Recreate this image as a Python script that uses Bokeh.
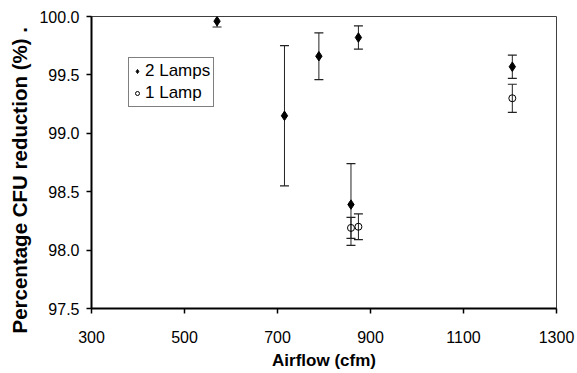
import math
from bokeh.plotting import figure
from bokeh.models import (ColumnDataSource, Range1d, Whisker, TeeHead, Legend,
                          LegendItem, Title, PrintfTickFormatter, FixedTicker)
from bokeh.embed import file_html
from bokeh.resources import INLINE

# ---- data ----
airflow_2 = [570, 715, 789, 858, 874, 1205]
reduction_2 = [99.96, 99.15, 99.66, 98.39, 99.82, 99.57]
error_2 = [0.05, 0.60, 0.20, 0.35, 0.10, 0.10]

airflow_1 = [858, 874, 1205]
reduction_1 = [98.19, 98.20, 99.30]
error_1 = [0.09, 0.11, 0.12]

x_ticks = [300, 500, 700, 900, 1100, 1300]
y_ticks = [97.5, 98.0, 98.5, 99.0, 99.5, 100.0]

series_names = ["2 Lamps", "1 Lamp"]
x_title = "Airflow (cfm)"
y_title = "Percentage CFU reduction (%) ."

FONT = "Liberation Sans"

src2 = ColumnDataSource(dict(
    x=airflow_2, y=reduction_2,
    upper=[v + e for v, e in zip(reduction_2, error_2)],
    lower=[v - e for v, e in zip(reduction_2, error_2)]))
src1 = ColumnDataSource(dict(
    x=airflow_1, y=reduction_1,
    upper=[v + e for v, e in zip(reduction_1, error_1)],
    lower=[v - e for v, e in zip(reduction_1, error_1)]))

p = figure(width=577, height=373, frame_width=465, frame_height=292,
           min_border_left=91, min_border_right=21, min_border_top=16,
           min_border_bottom=65, output_backend="svg", toolbar_location=None,
           x_range=Range1d(x_ticks[0], x_ticks[-1]),
           y_range=Range1d(y_ticks[0], y_ticks[-1]))

p.background_fill_color = "white"
p.border_fill_color = "white"
p.outline_line_color = "#404040"
p.outline_line_width = 1
p.xgrid.visible = False
p.ygrid.visible = False

for ax in (p.xaxis[0], p.yaxis[0]):
    ax.axis_line_width = 2
    ax.axis_line_color = "black"
    ax.major_tick_line_color = "black"
    ax.major_tick_line_width = 1.5
    ax.major_tick_in = 0
    ax.major_tick_out = 5
    ax.minor_tick_line_color = None
    ax.major_label_text_font = FONT
    ax.major_label_text_font_size = "16px"
    ax.major_label_text_color = "black"

p.xaxis.ticker = FixedTicker(ticks=x_ticks)
p.yaxis.ticker = FixedTicker(ticks=y_ticks)
p.yaxis.formatter = PrintfTickFormatter(format="%.1f")
p.xaxis.major_label_standoff = 17
p.yaxis.major_label_standoff = 7

p.xaxis.axis_label = x_title
p.xaxis.axis_label_text_font = FONT
p.xaxis.axis_label_text_font_style = "bold"
p.xaxis.axis_label_text_font_size = "17px"
p.xaxis.axis_label_text_color = "black"
p.xaxis.axis_label_standoff = 5

# error bars
for src in (src2, src1):
    w = Whisker(base="x", upper="upper", lower="lower", source=src,
                line_color="#222222", line_width=1,
                upper_head=TeeHead(size=9, line_color="#222222", line_width=1.2),
                lower_head=TeeHead(size=9, line_color="#222222", line_width=1.2))
    p.add_layout(w)

r2 = p.scatter("x", "y", source=src2, marker="diamond", size=9.5,
               fill_color="black", line_color="black")
r1 = p.scatter("x", "y", source=src1, marker="circle", size=7,
               fill_color=None, line_color="black", line_width=1)

legend = Legend(items=[LegendItem(label=series_names[0], renderers=[r2]),
                       LegendItem(label=series_names[1], renderers=[r1])],
                location=(37, 201), border_line_color="black",
                border_line_width=1, background_fill_color="white",
                background_fill_alpha=1, padding=3, spacing=2, margin=0,
                glyph_width=10, glyph_height=20, label_height=20,
                label_standoff=3, label_text_font=FONT,
                label_text_font_size="17px", label_text_color="black")
p.add_layout(legend)

ytitle = Title(text=y_title, align="left", offset=-25, standoff=9,
               vertical_align="middle",
               text_font=FONT, text_font_style="bold", text_font_size="20.5px",
               text_color="black")
p.add_layout(ytitle, "left")

open("out.html", "w").write(file_html(p, INLINE))
